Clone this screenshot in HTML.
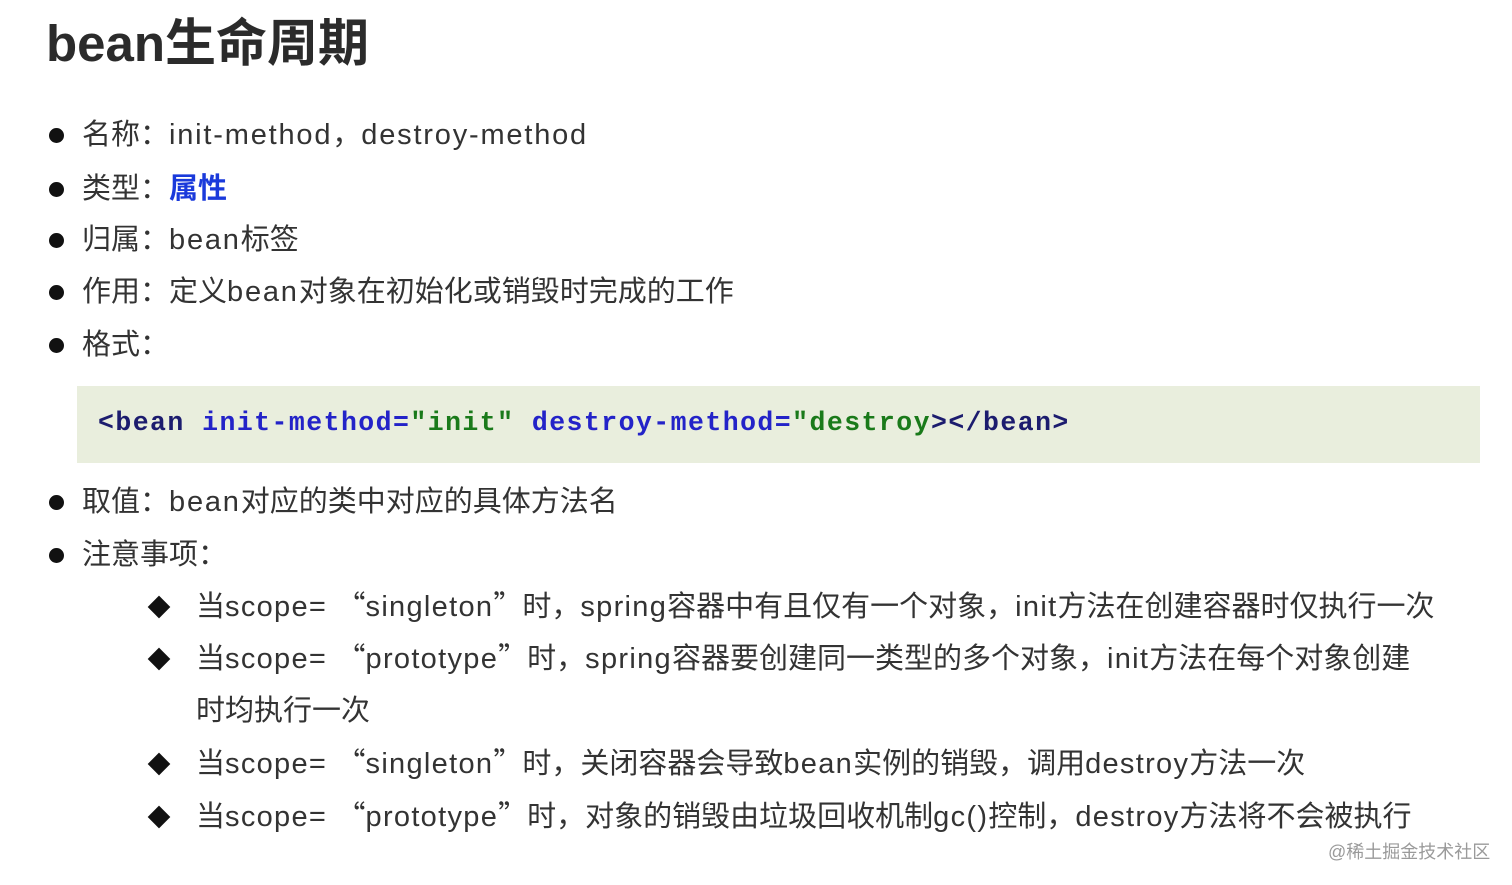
<!DOCTYPE html>
<html><head><meta charset="utf-8"><style>
body{margin:0;width:1512px;height:885px;background:#fff;position:relative;overflow:hidden;font-family:"Liberation Sans","Noto Sans CJK SC",sans-serif;color:#333;}
.t{position:absolute;white-space:nowrap;}
.title{left:46px;top:2px;font-size:51px;font-weight:bold;color:#2b2b2b;}
.l{font-size:29px;left:82px;line-height:40px;}
.dot{position:absolute;width:15px;height:15px;border-radius:50%;background:#111;left:49px;}
.s{font-size:29px;left:196px;line-height:40px;}
.dia{position:absolute;left:151px;width:16px;height:16px;background:#111;transform:rotate(45deg);}
.code{position:absolute;left:77px;top:386px;width:1403px;height:77px;background:#e9eedd;}
.ct{position:absolute;left:98px;top:408px;font-family:"Liberation Mono",monospace;font-weight:bold;font-size:26.5px;letter-spacing:1.45px;color:#1c1c6e;white-space:nowrap;}
.b{color:#2323c8}.g{color:#1a7a1a}
.e{letter-spacing:1.8px}
.s .e{letter-spacing:1.3px}
.q{font-family:"Noto Sans CJK SC",sans-serif;line-height:0;}
</style></head><body>
<div class="t title">bean生命周期</div>
<div class="dot" style="top:128px"></div><div class="t l" style="top:115px">名称：<span class="e">init-method</span>，<span class="e">destroy-method</span></div>
<div class="dot" style="top:182px"></div><div class="t l" style="top:169px">类型：<b style="color:#1a3adb">属性</b></div>
<div class="dot" style="top:233px"></div><div class="t l" style="top:220px">归属：<span class="e">bean</span>标签</div>
<div class="dot" style="top:285px"></div><div class="t l" style="top:272px">作用：定义<span class="e">bean</span>对象在初始化或销毁时完成的工作</div>
<div class="dot" style="top:338px"></div><div class="t l" style="top:325px">格式：</div>
<div class="code"></div>
<div class="ct">&lt;bean <span class="b">init-method=</span><span class="g">"init"</span> <span class="b">destroy-method=</span><span class="g">"destroy</span>&gt;&lt;/bean&gt;</div>
<div class="dot" style="top:495px"></div><div class="t l" style="top:482px">取值：<span class="e">bean</span>对应的类中对应的具体方法名</div>
<div class="dot" style="top:548px"></div><div class="t l" style="top:535px">注意事项：</div>
<div class="dia" style="top:599px"></div><div class="t s" style="top:587px">当<span class="e">scope= </span><span class="q">“</span><span class="e">singleton</span><span class="q">”</span>时，<span class="e">spring</span>容器中有且仅有一个对象，<span class="e">init</span>方法在创建容器时仅执行一次</div>
<div class="dia" style="top:651px"></div><div class="t s" style="top:639px">当<span class="e">scope= </span><span class="q">“</span><span class="e">prototype</span><span class="q">”</span>时，<span class="e">spring</span>容器要创建同一类型的多个对象，<span class="e">init</span>方法在每个对象创建</div>
<div class="t s" style="top:691px">时均执行一次</div>
<div class="dia" style="top:756px"></div><div class="t s" style="top:744px">当<span class="e">scope= </span><span class="q">“</span><span class="e">singleton</span><span class="q">”</span>时，关闭容器会导致<span class="e">bean</span>实例的销毁，调用<span class="e">destroy</span>方法一次</div>
<div class="dia" style="top:809px"></div><div class="t s" style="top:797px">当<span class="e">scope= </span><span class="q">“</span><span class="e">prototype</span><span class="q">”</span>时，对象的销毁由垃圾回收机制<span class="e">gc()</span>控制，<span class="e">destroy</span>方法将不会被执行</div>
<div class="t" style="left:1328px;top:838px;font-size:18px;color:#9a9a9a">@稀土掘金技术社区</div>
</body></html>
